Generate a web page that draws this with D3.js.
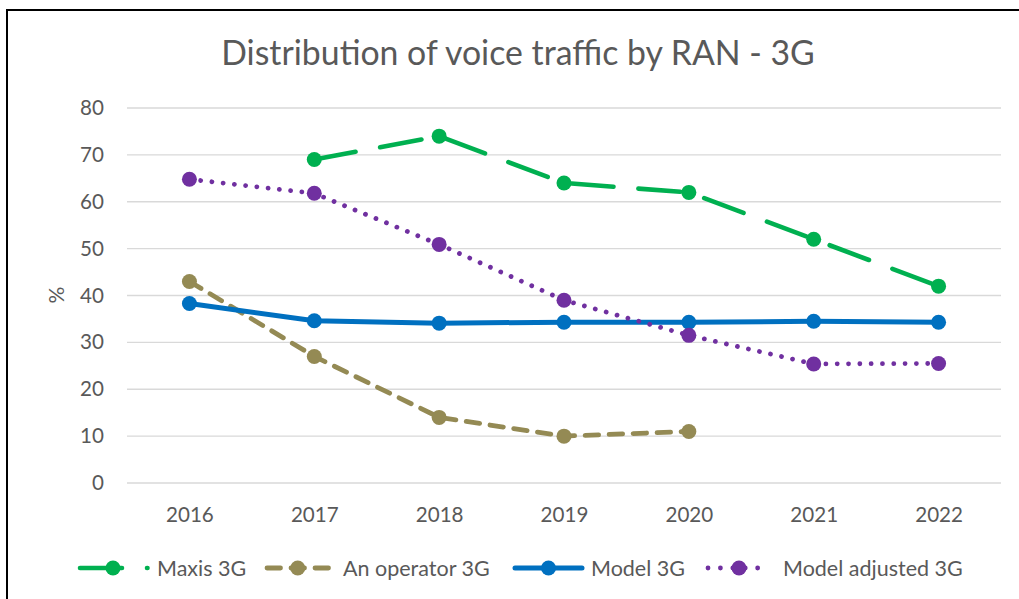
<!DOCTYPE html>
<html>
<head>
<meta charset="utf-8">
<script src="https://cdn.jsdelivr.net/npm/d3@7"></script>
<style>
  html, body { margin: 0; padding: 0; background: #fff; }
  svg { display: block; }
  text { font-family: Lato, "Open Sans", sans-serif; fill: #595959; }
</style>
</head>
<body>
<svg id="chart" width="1019" height="599"></svg>
<script>
const years = ["2016", "2017", "2018", "2019", "2020", "2021", "2022"];
const maxis3G = [null, 69, 74, 64, 62, 52, 42];
const operator3G = [43, 27, 14, 10, 11, null, null];
const model3G = [38.3, 34.6, 34.1, 34.3, 34.3, 34.5, 34.3];
const modelAdjusted3G = [64.8, 61.8, 50.9, 39.0, 31.5, 25.4, 25.5];
const yTicks = [0, 10, 20, 30, 40, 50, 60, 70, 80];
const titleText = "Distribution of voice traffic by RAN - 3G";
const yLabel = "%";

const series = [
  { name: "Maxis 3G", values: maxis3G, color: "#00B050", dash: "42 25", width: 4.6 },
  { name: "An operator 3G", values: operator3G, color: "#948A54", dash: "13.5 10.5", width: 4.8 },
  { name: "Model 3G", values: model3G, color: "#0070C0", dash: null, width: 5 },
  { name: "Model adjusted 3G", values: modelAdjusted3G, color: "#7030A0", dash: "0.01 11.3", width: 4.8 }
];

const svg = d3.select("#chart");

// outer border
svg.append("rect").attr("x", 7).attr("y", 10).attr("width", 1200).attr("height", 800)
  .attr("fill", "none").attr("stroke", "#000").attr("stroke-width", 2);

const x = d3.scalePoint().domain(years).range([127, 1001]).padding(0.5);
const y = d3.scaleLinear().domain([0, 80]).range([483, 108]);

// gridlines
svg.append("g").selectAll("line").data(yTicks).join("line")
  .attr("x1", 127).attr("x2", 1001)
  .attr("y1", d => y(d)).attr("y2", d => y(d))
  .attr("stroke", "#D9D9D9").attr("stroke-width", 1.3);

// y axis
const yAxis = svg.append("g").attr("transform", "translate(104,0)")
  .call(d3.axisLeft(y).tickValues(yTicks).tickSize(0).tickPadding(0));
yAxis.select(".domain").remove();
yAxis.selectAll("text").attr("font-size", 20.6).attr("fill", "#595959")
  .style("font-family", "Lato, 'Open Sans', sans-serif");

// x axis
const xAxis = svg.append("g").attr("transform", "translate(0,483)")
  .call(d3.axisBottom(x).tickSize(0).tickPadding(24));
xAxis.select(".domain").remove();
xAxis.selectAll("text").attr("font-size", 20.6).attr("fill", "#595959")
  .style("font-family", "Lato, 'Open Sans', sans-serif");

// title
svg.append("text").attr("x", 518).attr("y", 65).attr("text-anchor", "middle")
  .attr("font-size", 33.8).text(titleText);

// y label
svg.append("text").attr("transform", "translate(64,295) rotate(-90)")
  .attr("text-anchor", "middle").attr("font-size", 21).text(yLabel);

// lines
const line = d3.line()
  .defined(d => d.v !== null)
  .x(d => x(d.year)).y(d => y(d.v));

series.forEach(s => {
  const pts = years.map((yr, i) => ({ year: yr, v: s.values[i] }));
  svg.append("path").datum(pts)
    .attr("d", line)
    .attr("fill", "none")
    .attr("stroke", s.color)
    .attr("stroke-width", s.width)
    .attr("stroke-linecap", "round")
    .attr("stroke-linejoin", "round")
    .attr("stroke-dasharray", s.dash);
  svg.append("g").selectAll("circle").data(pts.filter(d => d.v !== null)).join("circle")
    .attr("cx", d => x(d.year)).attr("cy", d => y(d.v)).attr("r", 7.5)
    .attr("fill", s.color);
});

// legend
const legendY = 568;
const legendItems = [
  { s: series[0], x1: 80, x2: 147.5, tx: 157 },
  { s: series[1], x1: 267, x2: 328.5, tx: 343 },
  { s: series[2], x1: 515, x2: 582, tx: 591 },
  { s: series[3], x1: 708, x2: 770, tx: 783 }
];
legendItems.forEach(li => {
  const g = svg.append("g");
  g.append("line").attr("x1", li.x1).attr("x2", li.x2).attr("y1", legendY).attr("y2", legendY)
    .attr("stroke", li.s.color).attr("stroke-width", li.s.width)
    .attr("stroke-linecap", "round")
    .attr("stroke-dasharray", li.s.name === "Model adjusted 3G" ? "0.01 12.4" : li.s.dash);
  g.append("circle").attr("cx", li.s.name === "Maxis 3G" ? 113 : (li.x1 + li.x2) / 2)
    .attr("cy", legendY).attr("r", 7.5).attr("fill", li.s.color);
  g.append("text").attr("x", li.tx).attr("y", legendY).attr("dy", "0.35em")
    .attr("font-size", 21.5).text(li.s.name);
});
</script>
</body>
</html>
